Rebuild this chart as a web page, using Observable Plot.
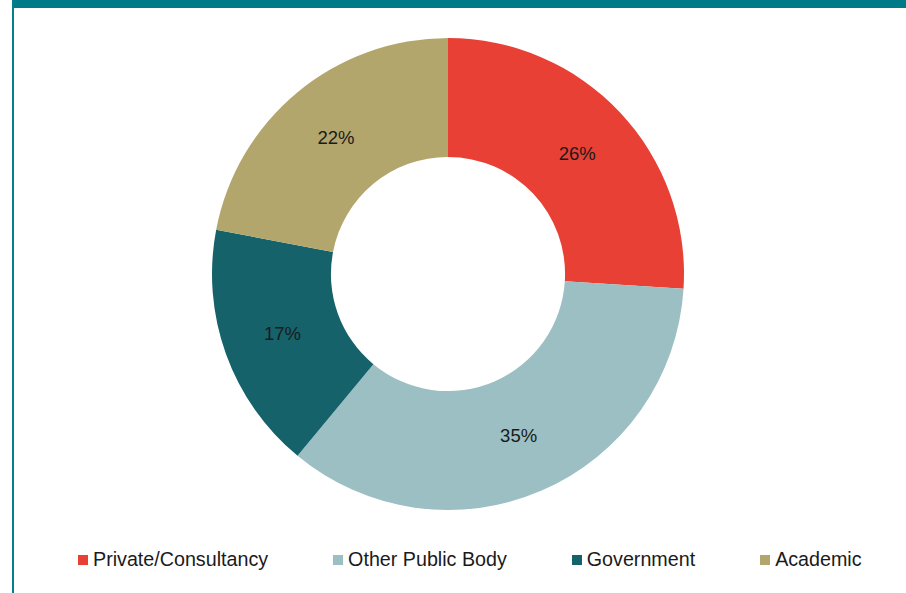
<!DOCTYPE html>
<html>
<head>
<meta charset="utf-8">
<script src="https://cdn.jsdelivr.net/npm/d3@7"></script>
<script src="https://cdn.jsdelivr.net/npm/@observablehq/plot@0.6"></script>
<style>
  html, body { margin: 0; padding: 0; background: #fff; }
  #wrap { position: relative; width: 906px; height: 593px; overflow: hidden; font-family: "Liberation Sans", Arial, sans-serif; }
  #topbar { position: absolute; left: 12px; top: 0; width: 894px; height: 8px; background: #007A87; z-index: 2; }
  #leftline { position: absolute; left: 12px; top: 0; width: 2px; height: 593px; background: #00808C; z-index: 2; }
  #chart { position: absolute; left: 0; top: 0; }
  #legend { position: absolute; left: 78px; top: 548px; display: flex; gap: 65px; font-size: 19.7px; color: #1a1a1a; white-space: nowrap; }
  #legend .item { display: flex; align-items: center; }
  #legend .sw { width: 10px; height: 10px; margin-right: 5px; }
</style>
</head>
<body>
<div id="wrap">
  <div id="chart"></div>
  <div id="legend"></div>
  <div id="topbar"></div>
  <div id="leftline"></div>
</div>
<script>
const categories = ["Private/Consultancy", "Other Public Body", "Government", "Academic"];
const shares = [26, 35, 17, 22];
const colors = ["#E84034", "#9BBFC2", "#15626B", "#B3A66C"];
const innerRatio = 0.496;

const data = categories.map((c, i) => ({category: c, value: shares[i]}));
const arcs = d3.pie().sort(null).value(d => d.value)(data);
const labelR = (1 + innerRatio) / 2;
const labels = arcs.map(a => {
  const m = (a.startAngle + a.endAngle) / 2;
  return {x: Math.sin(m) * labelR, y: Math.cos(m) * labelR, text: a.data.value + "%"};
});

const fallbackColor = d3.scaleOrdinal(categories, colors);

const donut = (index, scales) => {
  const {x, y} = scales;
  const color = scales.color || fallbackColor;
  const cx = x(0), cy = y(0);
  const R = x(1) - x(0);
  const arc = d3.arc().outerRadius(R).innerRadius(R * innerRatio);
  const g = d3.create("svg:g").attr("transform", `translate(${cx},${cy})`);
  g.selectAll("path").data(arcs).join("path")
    .attr("d", arc)
    .attr("fill", d => color(d.data.category));
  return g.node();
};

const chart = Plot.plot({
  width: 906,
  height: 530,
  marginLeft: 212,
  marginRight: 222,
  marginTop: 38,
  marginBottom: 20,
  x: {domain: [-1, 1], axis: null},
  y: {domain: [-1, 1], axis: null},
  color: {domain: categories, range: colors},
  style: {fontFamily: "'Liberation Sans', Arial, sans-serif", background: "transparent"},
  marks: [
    donut,
    Plot.text(labels, {x: "x", y: "y", text: "text", fontSize: 18.5, fill: "#1a1a1a"})
  ]
});
document.getElementById("chart").appendChild(chart);

const legend = d3.select("#legend");
categories.forEach((c, i) => {
  const item = legend.append("div").attr("class", "item");
  item.append("div").attr("class", "sw").style("background", fallbackColor(c));
  item.append("span").text(c);
});
</script>
</body>
</html>
